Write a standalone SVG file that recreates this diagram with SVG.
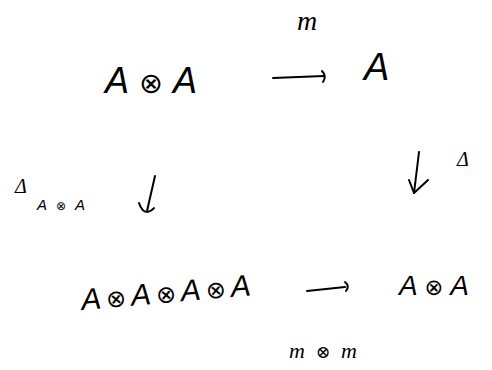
<svg xmlns="http://www.w3.org/2000/svg" width="492" height="370" viewBox="0 0 492 370">
  <style>
    .obj { font-family: "Liberation Sans", "DejaVu Sans", sans-serif; font-style: italic; fill: #000; }
    .lbl { font-family: "Liberation Serif", "DejaVu Serif", serif; font-style: italic; fill: #000; }
    .ot { font-size: 0.8em; }
    .arr { fill: none; stroke: #000; stroke-width: 2; stroke-linecap: round; stroke-linejoin: round; }
  </style>
  <rect width="492" height="370" fill="#fff"/>

  <!-- objects -->
  <g id="node-AA">
    <text class="obj" x="105" y="93" font-size="36" textLength="92" lengthAdjust="spacing">A<tspan class="ot">⊗</tspan>A</text>
  </g>
  <g id="node-A">
    <text class="obj" x="364" y="80" font-size="38">A</text>
  </g>
  <g id="node-AAAA">
    <text class="obj" x="82" y="310" font-size="30" textLength="170" lengthAdjust="spacing" transform="rotate(-5 82 310)">A<tspan class="ot">⊗</tspan>A<tspan class="ot">⊗</tspan>A<tspan class="ot">⊗</tspan>A</text>
  </g>
  <g id="node-AA2">
    <text class="obj" x="399" y="295" font-size="28" textLength="70" lengthAdjust="spacing">A<tspan class="ot">⊗</tspan>A</text>
  </g>

  <!-- connectors -->
  <g id="connectors">
    <!-- m : A⊗A -> A -->
    <path class="arr" d="M273,78 L324,76"/>
    <path class="arr" d="M322,71 Q327,76 323,82"/>
    <text class="lbl" x="297" y="30" font-size="28">m</text>

    <!-- Δ_{A⊗A} : A⊗A -> A⊗A⊗A⊗A -->
    <path class="arr" d="M155,176 L147,211"/>
    <path class="arr" d="M139,203 Q142,212 147,212 Q152,211 154,208"/>
    <text class="lbl" x="15" y="193" font-size="20">Δ</text>
    <text class="obj" x="37" y="210" font-size="15" textLength="48" lengthAdjust="spacing">A<tspan class="ot">⊗</tspan>A</text>

    <!-- Δ : A -> A⊗A -->
    <path class="arr" d="M419,152 L414,193"/>
    <path class="arr" d="M409,180 L414,193 L428,180"/>
    <text class="lbl" x="457" y="166" font-size="20">Δ</text>

    <!-- m⊗m : A⊗A⊗A⊗A -> A⊗A -->
    <path class="arr" d="M307,291 L345,287"/>
    <path class="arr" d="M345,282 Q350,286 346,291"/>
    <text class="lbl" x="289" y="358" font-size="22" textLength="68" lengthAdjust="spacing">m<tspan class="ot">⊗</tspan>m</text>
  </g>
</svg>
